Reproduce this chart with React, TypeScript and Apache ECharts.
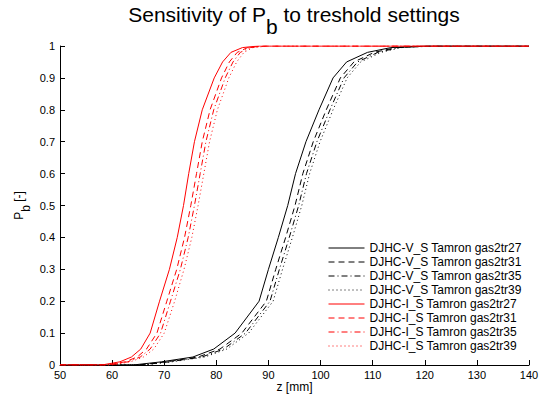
import React, { useEffect, useRef } from "react";
import * as echarts from "echarts";

const P_LEVELS = [0, 0.01, 0.025, 0.05, 0.1, 0.2, 0.3, 0.4, 0.5, 0.6, 0.7, 0.8, 0.9, 0.95, 0.98, 0.995, 1];

// z [mm] at each probability level, per series
const V_TR27 = [64, 69.5, 75.5, 79.5, 83.6, 88.2, 90.0, 91.9, 93.7, 95.2, 97.2, 99.7, 102.4, 105.0, 109.0, 113.5, 120];
const V_TR31 = [65, 70.5, 76.5, 80.7, 84.9, 89.6, 91.4, 93.3, 95.1, 96.6, 98.6, 101.1, 103.8, 106.4, 110.3, 114.5, 121];
const V_TR35 = [65.5, 71, 77.2, 81.4, 85.6, 90.3, 92.1, 94.0, 95.8, 97.3, 99.3, 101.8, 104.5, 107.1, 111.0, 115.0, 121.5];
const V_TR39 = [66, 71.5, 77.8, 82.0, 86.2, 90.9, 92.7, 94.6, 96.4, 97.9, 99.9, 102.4, 105.1, 107.7, 111.6, 115.5, 122];

const I_TR27 = [58, 61.5, 63.7, 65.5, 67.3, 69.1, 71.0, 72.5, 73.7, 74.7, 75.8, 77.3, 79.6, 81.2, 82.8, 85, 88];
const I_TR31 = [59, 62.5, 64.8, 66.6, 68.6, 70.5, 72.4, 73.9, 75.1, 76.2, 77.3, 78.8, 81.0, 82.5, 84.0, 86, 89];
const I_TR35 = [59.5, 63, 65.4, 67.3, 69.3, 71.2, 73.1, 74.6, 75.8, 76.9, 78.0, 79.5, 81.7, 83.2, 84.6, 86.5, 89.5];
const I_TR39 = [60, 63.5, 66, 68, 70, 72, 73.8, 75.3, 76.5, 77.6, 78.7, 80.2, 82.4, 83.9, 85.3, 87, 90];

const SERIES_NAMES = [
  "DJHC-V_S Tamron gas2tr27",
  "DJHC-V_S Tamron gas2tr31",
  "DJHC-V_S Tamron gas2tr35",
  "DJHC-V_S Tamron gas2tr39",
  "DJHC-I_S Tamron gas2tr27",
  "DJHC-I_S Tamron gas2tr31",
  "DJHC-I_S Tamron gas2tr35",
  "DJHC-I_S Tamron gas2tr39",
];
const SERIES_Z = [V_TR27, V_TR31, V_TR35, V_TR39, I_TR27, I_TR31, I_TR35, I_TR39];

const X_MIN = 50;
const X_MAX = 140;

const FONT = "'Liberation Sans', Arial, Helvetica, sans-serif";

export default function App() {
  const ref = useRef<HTMLDivElement>(null);
  useEffect(() => {
    if (!ref.current) return;
    const chart = echarts.init(ref.current, null, { renderer: "svg" });
    const dashTypes: any[] = ["solid", [6, 4], [6, 3, 1, 3], [1, 3]];
    const series = SERIES_Z.map((zs, i) => {
      const data: number[][] = [[X_MIN, 0]];
      zs.forEach((z, k) => data.push([z, P_LEVELS[k]]));
      data.push([X_MAX, 1]);
      const color = i < 4 ? "#000000" : "#ff0000";
      return {
        name: SERIES_NAMES[i],
        type: "line",
        data,
        symbol: "none",
        showSymbol: false,
        smooth: false,
        lineStyle: { color, width: 1, type: dashTypes[i % 4] },
        itemStyle: { color },
      };
    });
    chart.setOption({
      animation: false,
      backgroundColor: "#ffffff",
      title: {
        text: "{m|Sensitivity of P}{s|b}{m| to treshold settings}",
        left: 294,
        textAlign: "center",
        top: 4,
        padding: 0,
        textStyle: {
          fontFamily: FONT,
          fontSize: 21,
          fontWeight: "normal",
          color: "#000",
          rich: {
            m: { fontFamily: FONT, fontSize: 21, color: "#000", lineHeight: 33, verticalAlign: "top" },
            s: { fontFamily: FONT, fontSize: 21, color: "#000", lineHeight: 33, verticalAlign: "bottom" },
          },
        },
      },
      legend: {
        orient: "vertical",
        left: 323,
        top: 237,
        padding: 5,
        itemWidth: 36,
        itemHeight: 10,
        itemGap: 2,
        itemStyle: { opacity: 0 },
        lineStyle: { width: 1 },
        textStyle: { fontFamily: FONT, fontSize: 12, color: "#000", lineHeight: 10 },
        data: SERIES_NAMES,
      },
      grid: {
        left: 60,
        right: 16,
        top: 46,
        bottom: 31,
        containLabel: false,
        outerBoundsMode: "none",
      },
      xAxis: {
        type: "value",
        min: X_MIN,
        max: X_MAX,
        interval: 10,
        name: "z [mm]",
        nameLocation: "middle",
        nameGap: 16,
        nameMoveOverlap: false,
        nameTextStyle: { fontFamily: FONT, fontSize: 12, color: "#000", lineHeight: 12 },
        axisLine: { show: true, lineStyle: { color: "#000", width: 1 } },
        axisTick: { show: true, inside: true, length: 5, lineStyle: { color: "#000" } },
        axisLabel: { fontFamily: FONT, fontSize: 11, color: "#000", margin: 4 },
        splitLine: { show: false },
      },
      yAxis: {
        type: "value",
        min: 0,
        max: 1,
        interval: 0.1,
        name: "{m|P}{s|b}{m| [-]}",
        nameLocation: "middle",
        nameGap: 28,
        nameMoveOverlap: false,
        nameRotate: 90,
        nameTextStyle: {
          fontFamily: FONT,
          fontSize: 12,
          color: "#000",
          rich: {
            m: { fontFamily: FONT, fontSize: 12, color: "#000", lineHeight: 19, verticalAlign: "top" },
            s: { fontFamily: FONT, fontSize: 12, color: "#000", lineHeight: 19, verticalAlign: "bottom" },
          },
        },
        axisLine: { show: true, lineStyle: { color: "#000", width: 1 } },
        axisTick: { show: true, inside: true, length: 5, lineStyle: { color: "#000" } },
        axisLabel: { fontFamily: FONT, fontSize: 11, color: "#000", margin: 5 },
        splitLine: { show: false },
      },
      series,
    });
    return () => chart.dispose();
  }, []);
  return (
    <div
      ref={ref}
      style={{ position: "fixed", left: 0, top: 0, width: 545, height: 396, background: "#fff" }}
    />
  );
}
